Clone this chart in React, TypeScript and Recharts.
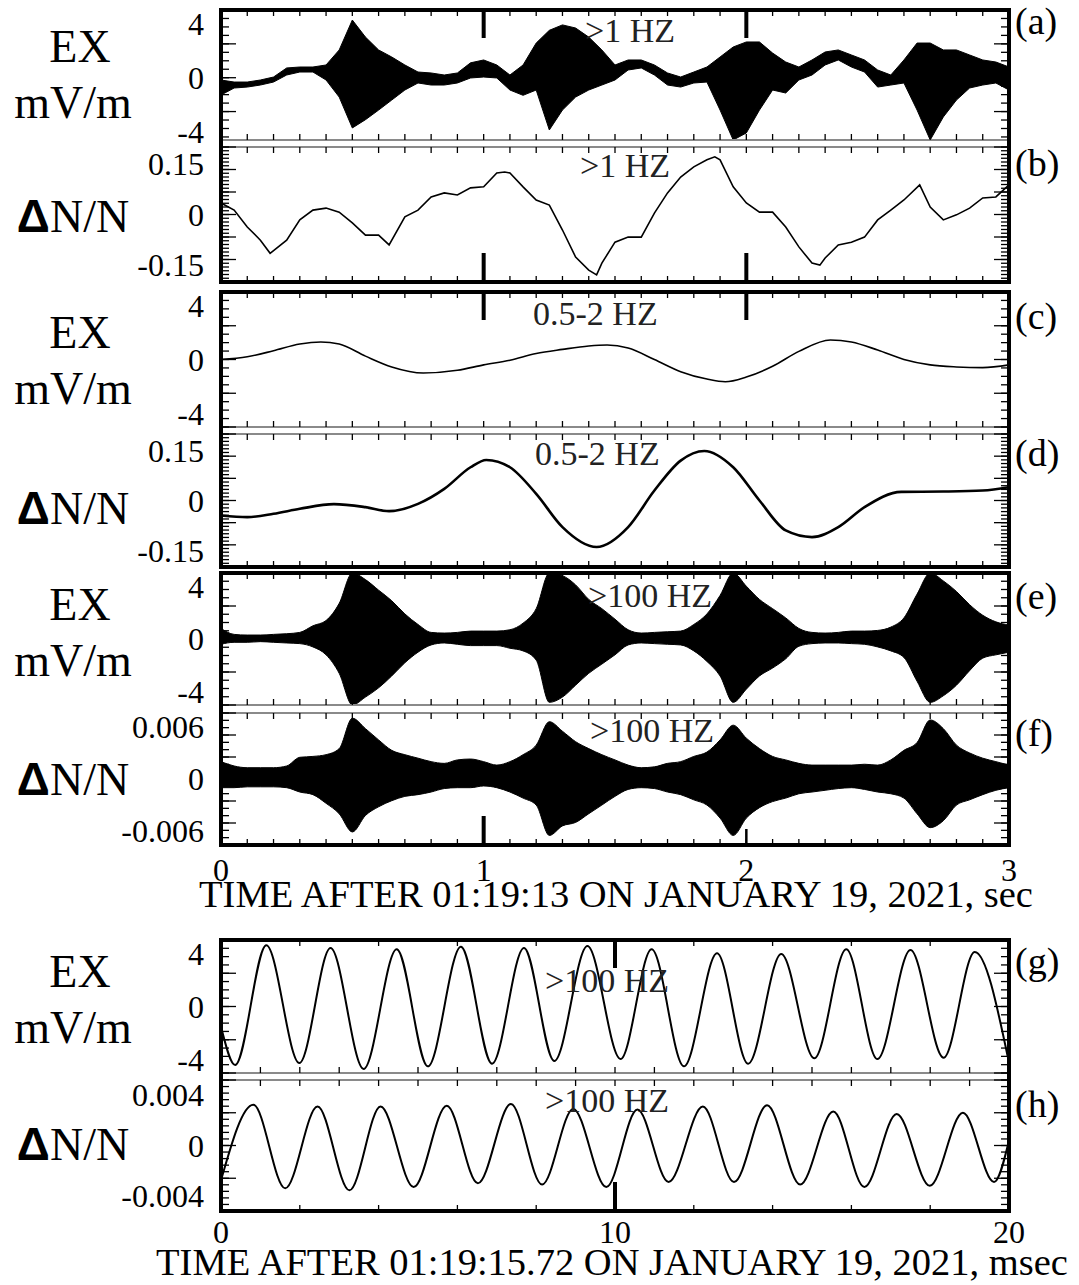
import React from "react";
import { ComposedChart, Area, Line, XAxis, YAxis, ReferenceLine } from "recharts";

const FONT = '"Liberation Serif", "DejaVu Serif", "Noto Serif", "Times New Roman", Times, serif';

// time grid for the enveloped (dense) traces, sec
const T_SEC = [
  0, 0.05, 0.1, 0.15, 0.2, 0.25, 0.3, 0.35, 0.4, 0.45, 0.5, 0.55, 0.6, 0.65, 0.7, 0.75, 0.8, 0.85, 0.9, 0.95,
  1.0, 1.05, 1.1, 1.15, 1.2, 1.25, 1.3, 1.35, 1.4, 1.45, 1.5, 1.55, 1.6, 1.65, 1.7, 1.75, 1.8, 1.85, 1.9, 1.95,
  2.0, 2.05, 2.1, 2.15, 2.2, 2.25, 2.3, 2.35, 2.4, 2.45, 2.5, 2.55, 2.6, 2.65, 2.7, 2.75, 2.8, 2.85, 2.9, 2.95, 3.0,
];

// (a) EX >1 Hz, upper / lower envelope, mV/m
const A_HI = [
  -0.17, -0.32, -0.32, -0.17, 0.05, 0.72, 0.79, 0.79, 0.94, 2.05, 4.26, 3.0, 2.05, 1.53, 0.94, 0.42, 0.35, 0.2, 0.35, 1.1,
  1.31, 0.94, 0.2, 0.94, 2.56, 3.5, 3.9, 3.67, 3.0, 2.05, 0.94, 1.31, 1.31, 0.94, 0.35, 0.05, 0.42, 0.79, 1.53, 2.27,
  2.64, 2.64, 1.82, 1.16, 0.79, 1.31, 1.9, 2.05, 1.68, 1.31, 0.57, 0.2, 1.31, 2.56, 2.56, 2.05, 2.05, 1.68, 1.31, 1.16, 0.79,
];
const A_LO = [
  -1.28, -0.76, -0.69, -0.54, -0.32, 0.2, 0.42, 0.42, -0.17, -1.43, -3.71, -3.1, -2.39, -1.65, -0.91, -0.39, -0.54, -0.54, -0.39, -0.02,
  0.05, -0.02, -0.91, -1.3, -0.91, -3.86, -2.39, -1.43, -0.91, -0.54, -0.17, 0.57, 0.72, 0.2, -0.54, -0.69, -0.39, -0.32, -2.39, -4.6,
  -4.08, -2.39, -0.91, -1.13, -0.17, 0.2, 0.94, 1.31, 0.79, 0.42, -0.69, -0.54, -0.39, -2.39, -4.6, -2.9, -1.65, -0.76, -0.54, -0.39, -0.91,
];

// (b) dN/N >1 Hz
const B_T = [
  0, 0.05, 0.1, 0.15, 0.187, 0.25, 0.3, 0.35, 0.4, 0.45, 0.5, 0.55, 0.6, 0.64, 0.7, 0.75, 0.8, 0.85, 0.9, 0.95,
  1.0, 1.05, 1.08, 1.1, 1.15, 1.2, 1.25, 1.3, 1.35, 1.4, 1.43, 1.45, 1.5, 1.55, 1.6, 1.65, 1.7, 1.75, 1.8, 1.85,
  1.88, 1.9, 1.95, 2.0, 2.05, 2.1, 2.15, 2.2, 2.25, 2.28, 2.3, 2.35, 2.4, 2.45, 2.5, 2.55, 2.6, 2.66, 2.7, 2.75,
  2.8, 2.85, 2.9, 2.95, 3.0,
];
const B_V = [
  0.034, 0.013, -0.037, -0.076, -0.115, -0.076, -0.016, 0.013, 0.019, 0.007, -0.025, -0.061, -0.061, -0.09, -0.007, 0.013, 0.052, 0.064, 0.058, 0.079,
  0.082, 0.123, 0.126, 0.123, 0.082, 0.043, 0.028, -0.046, -0.126, -0.165, -0.179, -0.144, -0.082, -0.067, -0.067, 0.004, 0.064, 0.111, 0.141, 0.162,
  0.171, 0.162, 0.082, 0.034, 0.007, 0.007, -0.037, -0.096, -0.144, -0.15, -0.129, -0.09, -0.082, -0.067, -0.016, 0.013, 0.043, 0.088, 0.022, -0.016,
  -0.001, 0.019, 0.049, 0.052, 0.088,
];

// (c) EX 0.5-2 Hz
const C_T = [0, 0.1, 0.2, 0.3, 0.38, 0.45, 0.55, 0.65, 0.77, 0.9, 1.0, 1.1, 1.2, 1.3, 1.4, 1.47, 1.55, 1.65, 1.75, 1.85, 1.92, 2.0, 2.1, 2.2, 2.32, 2.4, 2.5, 2.6, 2.7, 2.8, 2.9, 3.0];
const C_V = [0.0, 0.2, 0.65, 1.15, 1.3, 1.15, 0.25, -0.55, -1.0, -0.8, -0.4, -0.05, 0.45, 0.75, 1.0, 1.07, 0.85, 0.0, -0.9, -1.45, -1.65, -1.3, -0.5, 0.6, 1.45, 1.3, 0.7, 0.0, -0.4, -0.55, -0.6, -0.4];

// (d) dN/N 0.5-2 Hz
const D_T = [0, 0.1, 0.2, 0.3, 0.43, 0.55, 0.64, 0.75, 0.85, 0.95, 1.01, 1.1, 1.2, 1.3, 1.43, 1.55, 1.65, 1.75, 1.84, 1.95, 2.05, 2.15, 2.25, 2.35, 2.45, 2.59, 2.75, 2.9, 3.0];
const D_V = [-0.045, -0.05, -0.04, -0.025, -0.011, -0.02, -0.032, -0.01, 0.035, 0.1, 0.122, 0.1, 0.02, -0.08, -0.14, -0.08, 0.03, 0.12, 0.149, 0.1, 0.0, -0.09, -0.11, -0.08, -0.02, 0.026, 0.027, 0.03, 0.04];

// (e) EX >100 Hz envelope
const E_HI = [
  0.8, 0.35, 0.3, 0.3, 0.35, 0.4, 0.5, 1.0, 1.4, 2.7, 5.0, 4.5, 3.7, 2.9, 1.9, 1.1, 0.5, 0.45, 0.5, 0.6,
  0.6, 0.6, 0.7, 1.2, 2.3, 5.0, 4.8, 4.1, 3.0, 2.3, 1.5, 0.7, 0.45, 0.5, 0.55, 0.6, 1.1, 1.9, 3.3, 5.0,
  4.0, 3.0, 2.3, 1.6, 0.8, 0.5, 0.45, 0.5, 0.6, 0.6, 0.65, 0.9, 1.6, 3.4, 5.0, 4.4, 3.6, 2.6, 1.8, 1.3, 1.05,
];
const E_LO = [
  -0.4, -0.25, -0.25, -0.2, -0.25, -0.3, -0.35, -0.6, -1.2, -2.6, -5.0, -4.4, -3.7, -2.8, -1.8, -1.0, -0.45, -0.3, -0.4, -0.5,
  -0.5, -0.5, -0.7, -0.9, -1.6, -4.8, -4.4, -3.5, -2.6, -1.9, -1.2, -0.45, -0.3, -0.35, -0.4, -0.45, -0.9, -1.7, -2.8, -4.8,
  -3.8, -2.8, -2.2, -1.5, -0.55, -0.35, -0.3, -0.3, -0.35, -0.4, -0.6, -0.9, -1.4, -3.2, -4.8, -4.3, -3.5, -2.4, -1.45, -1.2, -1.0,
];

// (f) dN/N >100 Hz envelope
const F_HI = [
  0.002, 0.0015, 0.0013, 0.0013, 0.0013, 0.0015, 0.0025, 0.0026, 0.0028, 0.0035, 0.007, 0.0058, 0.0045, 0.0033, 0.0028, 0.0024, 0.002, 0.0018, 0.0022, 0.0023,
  0.002, 0.0016, 0.002, 0.0028, 0.0039, 0.0066, 0.0055, 0.0043, 0.0035, 0.0028, 0.0022, 0.0016, 0.0013, 0.0014, 0.0018, 0.002, 0.0026, 0.0031, 0.0045, 0.0062,
  0.0047, 0.0035, 0.0026, 0.0022, 0.0018, 0.0016, 0.0016, 0.0016, 0.0016, 0.0017, 0.0016, 0.0022, 0.0033, 0.0042, 0.0068, 0.0058, 0.0039, 0.003, 0.0024, 0.002, 0.0016,
];
const F_LO = [
  -0.001, -0.001, -0.0009, -0.0009, -0.0009, -0.001, -0.0015, -0.0018, -0.0028, -0.004, -0.0061, -0.0042, -0.0032, -0.0025, -0.002, -0.0018, -0.0015, -0.0011, -0.001, -0.001,
  -0.0008, -0.001, -0.0015, -0.0022, -0.003, -0.0065, -0.0054, -0.005, -0.004, -0.003, -0.002, -0.0012, -0.001, -0.0011, -0.0015, -0.0018, -0.0024, -0.003, -0.0045, -0.0065,
  -0.0045, -0.0033, -0.0026, -0.0022, -0.0017, -0.0015, -0.0013, -0.0011, -0.001, -0.0012, -0.0015, -0.0017, -0.0022, -0.004, -0.0056, -0.0048, -0.003, -0.0024, -0.0018, -0.0013, -0.001,
];

// (g) EX >100 Hz, zoomed, msec — extrema of the wave
const G_T = [0, 0.36, 1.15, 1.99, 2.78, 3.62, 4.46, 5.25, 6.09, 6.88, 7.69, 8.46, 9.3, 10.14, 10.93, 11.75, 12.59, 13.38, 14.22, 15.06, 15.87, 16.66, 17.5, 18.34, 19.13, 19.97];
const G_V = [-1.5, -4.4, 4.6, -4.25, 4.4, -4.7, 4.3, -4.5, 4.5, -4.3, 4.4, -4.1, 4.55, -3.95, 4.3, -4.5, 4.0, -4.3, 3.95, -3.9, 4.3, -3.95, 4.25, -3.85, 4.1, -3.8];

// (h) dN/N >100 Hz, zoomed
const H_T = [0, 0.82, 1.63, 2.45, 3.26, 4.05, 4.89, 5.73, 6.52, 7.36, 8.15, 8.94, 9.78, 10.57, 11.36, 12.23, 13.02, 13.86, 14.7, 15.54, 16.33, 17.15, 17.99, 18.83, 19.62, 20];
const H_V = [
  -0.00276, 0.00324, -0.0034, 0.0031, -0.00356, 0.0031, -0.0033, 0.00316, -0.003, 0.0033, -0.0031, 0.0029, -0.0033,
  0.00285, -0.0029, 0.0031, -0.0029, 0.0032, -0.0031, 0.0027, -0.0033, 0.0025, -0.0032, 0.0026, -0.0029, 0.0004,
];

// tick labels
const SEC_TICKS = [0, 1, 2, 3];
const MSEC_TICKS = [0, 10, 20];
const EX_TICKS = [4, 0, -4];
const DN_SLOW_TICKS = [0.15, 0, -0.15];
const DN_FAST_TICKS = [0.006, 0, -0.006];
const DN_ZOOM_TICKS = [0.004, 0, -0.004];

function steps(a: number, b: number, step: number) {
  const out: number[] = [];
  const n = Math.round((b - a) / step);
  for (let i = 0; i <= n; i++) out.push(+(a + i * step).toFixed(7));
  return out;
}

const bandData = (hi: number[], lo: number[]) => T_SEC.map((t, i) => ({ t, band: [lo[i], hi[i]] }));
const lineData = (ts: number[], vs: number[]) => ts.map((t, i) => ({ t, v: vs[i] }));

const fmt = (d: number) => (v: number) => (v === 0 ? "0" : v.toFixed(d));

const TICK_FONT = { fontSize: 32, fontFamily: FONT, fill: "#000" };
const PLOT_W = 788;
const MT = 14;
const MB = 14;

type Pt = { x: number; y: number };
type Seg = { a: Pt; b: Pt; w: number };

interface PanelProps {
  top: number;
  h: number;
  data: Record<string, unknown>[];
  xMax: number;
  yDom: [number, number];
  yTicks: number[];
  yFmt: (v: number) => string;
  yMinor: number[];
  yMajor: number[];
  xTop: number[];
  xBot: number[];
  markTop?: number[];
  markBot?: number[];
  markBot2?: number[];
  xLabels?: number[];
  labelGap?: number;
  sepTop?: boolean;
  sepBot?: boolean;
  children: React.ReactNode;
}

function Panel(p: PanelProps) {
  const labH = 44;
  const [y0, y1] = p.yDom;
  const inRange = (v: number) => v >= y0 - 1e-9 && v <= y1 + 1e-9;
  const py = (px: number) => (px * (y1 - y0)) / p.h; // px -> y units
  const px = (n: number) => (n * p.xMax) / PLOT_W; // px -> x units
  const segs: Seg[] = [];
  p.xTop.forEach((x) => segs.push({ a: { x, y: y1 }, b: { x, y: y1 - py(6) }, w: 1.3 }));
  p.xBot.forEach((x) => segs.push({ a: { x, y: y0 }, b: { x, y: y0 + py(6) }, w: 1.3 }));
  p.yMinor.filter(inRange).forEach((v) => {
    segs.push({ a: { x: 0, y: v }, b: { x: px(8), y: v }, w: 1.3 });
    segs.push({ a: { x: p.xMax, y: v }, b: { x: p.xMax - px(8), y: v }, w: 1.3 });
  });
  p.yMajor.filter(inRange).forEach((v) => {
    segs.push({ a: { x: 0, y: v }, b: { x: px(15), y: v }, w: 1.3 });
    segs.push({ a: { x: p.xMax, y: v }, b: { x: p.xMax - px(15), y: v }, w: 1.3 });
  });
  (p.markTop ?? []).forEach((x) => segs.push({ a: { x, y: y1 }, b: { x, y: y1 - py(28) }, w: 4 }));
  (p.markBot ?? []).forEach((x) => segs.push({ a: { x, y: y0 }, b: { x, y: y0 + py(29) }, w: 4 }));
  (p.markBot2 ?? []).forEach((x) => segs.push({ a: { x, y: y0 }, b: { x, y: y0 + py(16) }, w: 2.5 }));
  const xd: [number, number] = [0, p.xMax];
  return (
    <div style={{ position: "absolute", left: 0, top: p.top - MT }}>
      <ComposedChart
        width={1079}
        height={p.h + MT + MB + (p.xLabels ? labH : 0)}
        data={p.data}
        margin={{ top: MT, right: 70, bottom: MB, left: 121 }}
        style={{ overflow: "visible" }}
      >
        <XAxis xAxisId="x" dataKey="t" type="number" domain={xd} allowDataOverflow hide />
        {p.xLabels && (
          <XAxis
            xAxisId="lab"
            dataKey="t"
            type="number"
            orientation="bottom"
            domain={xd}
            allowDataOverflow
            ticks={p.xLabels}
            interval={0}
            height={labH}
            tickLine={false}
            axisLine={false}
            tickSize={0}
            tickMargin={p.labelGap ?? 13}
            tick={TICK_FONT}
          />
        )}
        <YAxis
          yAxisId="y"
          type="number"
          domain={p.yDom}
          allowDataOverflow
          ticks={p.yTicks}
          interval={0}
          width={100}
          tickLine={false}
          axisLine={false}
          tickSize={0}
          tickMargin={17}
          tickFormatter={p.yFmt}
          tick={TICK_FONT}
        />
        {p.sepTop && <ReferenceLine xAxisId="x" yAxisId="y" y={y1} stroke="#8a8a8a" strokeWidth={2} />}
        {p.sepBot && <ReferenceLine xAxisId="x" yAxisId="y" y={y0} stroke="#8a8a8a" strokeWidth={2} />}
        {p.children}
        {segs.map((s, i) => (
          <ReferenceLine key={`s${i}`} xAxisId="x" yAxisId="y" segment={[s.a, s.b]} stroke="#000" strokeWidth={s.w} ifOverflow="visible" />
        ))}
      </ComposedChart>
    </div>
  );
}

const EX_MINOR = steps(-5, 5, 0.625);
const EX_MAJOR = [-5, -2.5, 0, 2.5, 5];
const DN_MINOR = steps(-0.2, 0.2, 0.2 / 18);
const DN_MAJOR = steps(-0.2, 0.2, 0.2 / 3);
const DF_MINOR = steps(-0.0076, 0.0076, 0.0076 / 9);
const DF_MAJOR = steps(-0.0076, 0.0076, 0.0076 / 3);
const DZ_MINOR = steps(-0.0052, 0.0052, 0.0052 / 10);
const DZ_MAJOR = steps(-0.0052, 0.0052, 0.0052 / 2);
const X_SEC = steps(0, 3, 0.1);
const X_MS1 = steps(0, 20, 1);
const X_MS2 = steps(0, 20, 2);

const areaBase = {
  xAxisId: "x",
  yAxisId: "y",
  dataKey: "band",
  stroke: "#000",
  strokeWidth: 1,
  fill: "#000",
  fillOpacity: 1,
  dot: false,
  activeDot: false,
  isAnimationActive: false,
};

const lineProps = {
  xAxisId: "x",
  yAxisId: "y",
  dataKey: "v",
  stroke: "#000",
  dot: false,
  activeDot: false,
  isAnimationActive: false,
};

const frames = [
  { top: 8, height: 276 },
  { top: 290, height: 279 },
  { top: 571, height: 276 },
  { top: 938, height: 275 },
];

const sideLabels: { ex: boolean; y: number }[] = [
  { ex: true, y: 62 },
  { ex: false, y: 232 },
  { ex: true, y: 348 },
  { ex: false, y: 524 },
  { ex: true, y: 620 },
  { ex: false, y: 795 },
  { ex: true, y: 987 },
  { ex: false, y: 1160 },
];

const letters = [
  { t: "(a)", y: 34 },
  { t: "(b)", y: 176 },
  { t: "(c)", y: 329 },
  { t: "(d)", y: 466 },
  { t: "(e)", y: 609 },
  { t: "(f)", y: 746 },
  { t: "(g)", y: 974 },
  { t: "(h)", y: 1117 },
];

const bands = [
  { t: ">1 HZ", x: 585, y: 42 },
  { t: ">1 HZ", x: 580, y: 177 },
  { t: "0.5-2 HZ", x: 533, y: 325 },
  { t: "0.5-2 HZ", x: 535, y: 465 },
  { t: ">100 HZ", x: 588, y: 607 },
  { t: ">100 HZ", x: 590, y: 742 },
  { t: ">100 HZ", x: 545, y: 992 },
  { t: ">100 HZ", x: 545, y: 1112 },
];

export default function App() {
  return (
    <div style={{ position: "absolute", left: 0, top: 0, width: 1079, height: 1285, background: "#fff", overflow: "hidden", fontFamily: FONT }}>
      <Panel top={10} h={130} data={bandData(A_HI, A_LO)} xMax={3} yDom={[-4.6, 5]} yTicks={EX_TICKS} yFmt={fmt(0)}
        yMinor={EX_MINOR} yMajor={EX_MAJOR} xTop={X_SEC} xBot={X_SEC} markTop={[1, 2]} sepBot>
        <Area {...areaBase} type="linear" />
      </Panel>
      <Panel top={147} h={135} data={lineData(B_T, B_V)} xMax={3} yDom={[-0.2, 0.2]} yTicks={DN_SLOW_TICKS} yFmt={fmt(2)}
        yMinor={DN_MINOR} yMajor={DN_MAJOR} xTop={X_SEC} xBot={X_SEC} markBot={[1, 2]} sepTop>
        <Line {...lineProps} type="linear" strokeWidth={1.6} />
      </Panel>
      <Panel top={292} h={135} data={lineData(C_T, C_V)} xMax={3} yDom={[-5, 5]} yTicks={EX_TICKS} yFmt={fmt(0)}
        yMinor={EX_MINOR} yMajor={EX_MAJOR} xTop={X_SEC} xBot={X_SEC} markTop={[1, 2]} sepBot>
        <Line {...lineProps} type="monotone" strokeWidth={1.6} />
      </Panel>
      <Panel top={434} h={133} data={lineData(D_T, D_V)} xMax={3} yDom={[-0.2, 0.2]} yTicks={DN_SLOW_TICKS} yFmt={fmt(2)}
        yMinor={DN_MINOR} yMajor={DN_MAJOR} xTop={X_SEC} xBot={X_SEC} sepTop>
        <Line {...lineProps} type="monotone" strokeWidth={2.6} />
      </Panel>
      <Panel top={573} h={132} data={bandData(E_HI, E_LO)} xMax={3} yDom={[-5, 5]} yTicks={EX_TICKS} yFmt={fmt(0)}
        yMinor={EX_MINOR} yMajor={EX_MAJOR} xTop={X_SEC} xBot={X_SEC} sepBot>
        <Area {...areaBase} type="monotone" />
      </Panel>
      <Panel top={713} h={132} data={bandData(F_HI, F_LO)} xMax={3} yDom={[-0.0076, 0.0076]} yTicks={DN_FAST_TICKS} yFmt={fmt(3)}
        yMinor={DF_MINOR} yMajor={DF_MAJOR} xTop={X_SEC} xBot={X_SEC} markBot={[1]} markBot2={[2]} xLabels={SEC_TICKS} labelGap={13} sepTop>
        <Area {...areaBase} type="monotone" />
      </Panel>
      <Panel top={940} h={133} data={lineData(G_T, G_V)} xMax={20} yDom={[-5, 5]} yTicks={EX_TICKS} yFmt={fmt(0)}
        yMinor={EX_MINOR} yMajor={EX_MAJOR} xTop={X_MS2} xBot={X_MS1} markTop={[10]} sepBot>
        <Line {...lineProps} type="monotone" strokeWidth={2} />
      </Panel>
      <Panel top={1080} h={131} data={lineData(H_T, H_V)} xMax={20} yDom={[-0.0052, 0.0052]} yTicks={DN_ZOOM_TICKS} yFmt={fmt(3)}
        yMinor={DZ_MINOR} yMajor={DZ_MAJOR} xTop={X_MS1} xBot={X_MS2} markBot={[10]} xLabels={MSEC_TICKS} labelGap={9} sepTop>
        <Line {...lineProps} type="monotone" strokeWidth={2} />
      </Panel>

      {frames.map((f, i) => (
        <div key={i} style={{ position: "absolute", left: 219, top: f.top, width: 792, height: f.height, border: "4px solid #000", boxSizing: "border-box", pointerEvents: "none" }} />
      ))}

      <svg width={1079} height={1285} style={{ position: "absolute", left: 0, top: 0, pointerEvents: "none" }}>
        <g fontFamily={FONT} fill="#000">
          {sideLabels.map((s, i) =>
            s.ex ? (
              <g key={i} fontSize={46} textAnchor="middle">
                <text x={80} y={s.y}>EX</text>
                <text x={73} y={s.y + 56}>mV/m</text>
              </g>
            ) : (
              <text key={i} x={73} y={s.y} fontSize={46} textAnchor="middle">
                <tspan fontFamily='"Liberation Sans", "DejaVu Sans", Arial, sans-serif' fontWeight="bold">Δ</tspan>N/N
              </text>
            )
          )}
          {letters.map((l) => (
            <text key={l.t} x={1015} y={l.y} fontSize={38}>{l.t}</text>
          ))}
          {bands.map((b, i) => (
            <text key={i} x={b.x} y={b.y} fontSize={34} fill="#222">{b.t}</text>
          ))}
          <text x={616} y={907} fontSize={38.5} textAnchor="middle">TIME AFTER 01:19:13 ON JANUARY 19, 2021, sec</text>
          <text x={612} y={1275} fontSize={38.5} textAnchor="middle">TIME AFTER 01:19:15.72 ON JANUARY 19, 2021, msec</text>
        </g>
      </svg>
    </div>
  );
}
